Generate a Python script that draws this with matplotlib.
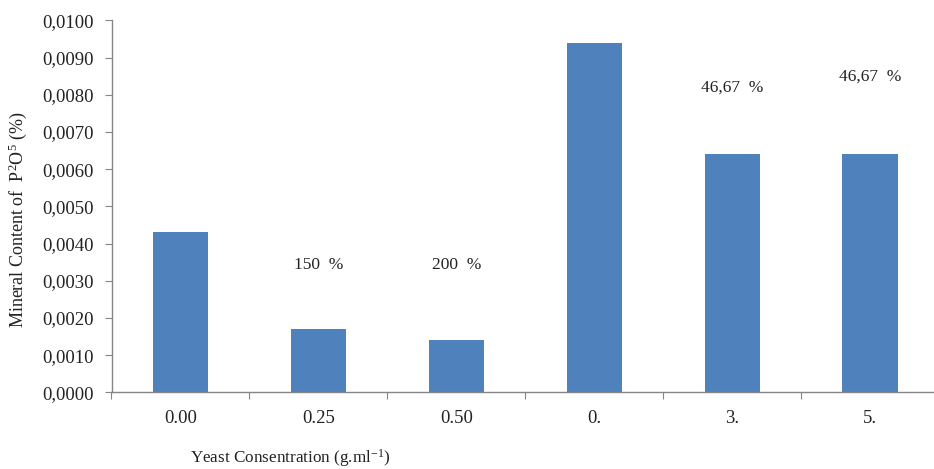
import numpy as np
import matplotlib
matplotlib.use('Agg')
import matplotlib.pyplot as plt

# data
categories = ['0.00', '0.25', '0.50', '0.', '3.', '5.']
values = [0.0043, 0.0017, 0.0014, 0.0094, 0.0064, 0.0064]
notes = ['150  %', '200  %', '46,67  %', '46,67  %']
note_pos = [1, 2, 4, 5]
note_y = [0.00342, 0.00342, 0.00820, 0.00848]
yticks = np.arange(0, 0.01001, 0.001)

plt.rcParams['font.family'] = ['Liberation Serif', 'DejaVu Serif']
plt.rcParams['mathtext.fontset'] = 'custom'
plt.rcParams['mathtext.rm'] = 'Liberation Serif'
plt.rcParams['mathtext.it'] = 'Liberation Serif:italic'

fig = plt.figure(figsize=(9.34, 4.69), dpi=100)
ax = fig.add_axes([111.5/934, 0.1635, 827.5/934, 0.793])

x = np.arange(len(categories))
ax.bar(x, values, width=0.4, color='#4F81BD', zorder=2)

for xi, yi, t in zip(note_pos, note_y, notes):
   ax.text(xi, yi, t, ha='center', va='center', fontsize=12.5, color='#222222')

ax.set_xlim(-0.5, len(categories) - 0.5)
ax.set_ylim(0, 0.01)
ax.set_yticks(yticks)
ax.set_yticklabels([('%.4f' % v).replace('.', ',') for v in yticks])

# Excel style: ticks between categories, labels in the middle
ax.set_xticks(np.arange(-0.5, len(categories), 1))
ax.set_xticklabels([])
ax.set_xticks(x, minor=True)
ax.set_xticklabels(categories, minor=True)
ax.tick_params(axis='x', which='major', length=5, color='#868686', direction='out')
ax.tick_params(axis='x', which='minor', length=0, pad=13, labelsize=13.5, labelcolor='#222222')
ax.tick_params(axis='y', length=5, color='#868686', pad=8, labelsize=13.5, labelcolor='#222222')

for s in ['top', 'right']:
   ax.spines[s].set_visible(False)
for s in ['left', 'bottom']:
   ax.spines[s].set_color('#868686')
   ax.spines[s].set_linewidth(1.0)

fig.text(18/934, 0.531, r'Mineral Content of  P$^{2}$O$^{5}$ (%)', rotation='vertical',
         ha='center', va='center', fontsize=13, color='#222222')
fig.text(190/934, (469-458)/469, r'Yeast Consentration (g.ml$^{-1}$)', ha='left', va='center',
         fontsize=12.3, color='#222222')

fig.savefig('out.png', dpi=100)
